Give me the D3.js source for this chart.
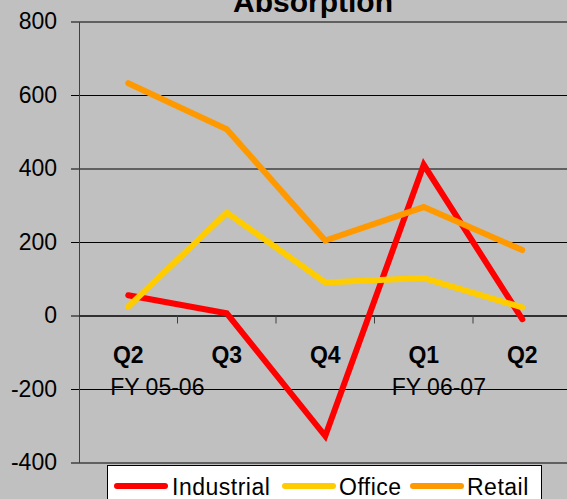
<!DOCTYPE html>
<html>
<head>
<meta charset="utf-8">
<script src="https://cdn.jsdelivr.net/npm/d3@7"></script>
<style>
  body { margin: 0; background: #c0c0c0; overflow: hidden; }
  svg { display: block; font-family: "Liberation Sans", Arial, sans-serif; }
</style>
</head>
<body>
<svg id="chart"></svg>
<script>
// quarters along the bottom
const quarters = ['Q2', 'Q3', 'Q4', 'Q1', 'Q2'];
const fiscalYears = [
  { at: 0, label: 'FY 05-06', dx: -18 },
  { at: 3, label: 'FY 06-07', dx: -32 }
];
const seriesNames = ['Industrial', 'Office', 'Retail'];
const industrial = [55, 6, -328, 410, -10];
const office = [24, 280, 90, 102, 22];
const retail = [632, 507, 204, 295, 178];
const yTicks = [-400, -200, 0, 200, 400, 600, 800];

const width = 567;
const height = 499;
const colors = ['#ff0000', '#ffcc00', '#ff9900'];
const series = [industrial, office, retail];

const plotLeft = 79, plotRight = 571.5, plotTop = 21.5, plotBottom = 462.5;

const svg = d3.select('#chart')
  .attr('width', width)
  .attr('height', height);

svg.append('rect')
  .attr('width', width)
  .attr('height', height)
  .attr('fill', '#c0c0c0');

const x = d3.scaleBand()
  .domain(d3.range(quarters.length))
  .range([plotLeft, plotRight]);

const y = d3.scaleLinear()
  .domain([-400, 800])
  .range([plotBottom, plotTop]);

// gridlines (they start a little left of the axis, like the tick marks)
const grid = svg.append('g')
  .attr('transform', `translate(${plotLeft - 8},0)`)
  .call(d3.axisRight(y).tickValues(yTicks).tickSize(plotRight - plotLeft + 8).tickFormat(''));
grid.select('.domain').remove();
grid.selectAll('line').attr('stroke', '#000').attr('stroke-width', 1);

// y labels, plain hyphen for negatives like the original
const yAxis = svg.append('g')
  .attr('transform', `translate(${plotLeft},0)`)
  .call(d3.axisLeft(y).tickValues(yTicks).tickSize(0).tickPadding(22).tickFormat(d => String(d)));
yAxis.select('.domain').attr('stroke', '#404040');
yAxis.selectAll('text')
  .attr('font-size', 23)
  .attr('fill', '#000')
  .attr('font-family', '"Liberation Sans", Arial, sans-serif');

// x axis at zero, ticks between categories
const xAxis = svg.append('g')
  .attr('transform', `translate(0,${y(0)})`)
  .call(d3.axisBottom(x).tickSize(0).tickFormat(''));
xAxis.select('.domain').attr('stroke', '#000');
xAxis.selectAll('.tick').remove();

svg.append('g')
  .selectAll('line')
  .data(d3.range(1, quarters.length))
  .join('line')
  .attr('x1', d => x(d))
  .attr('x2', d => x(d))
  .attr('y1', y(0))
  .attr('y2', y(0) + 8)
  .attr('stroke', '#404040');

// category labels
svg.append('g')
  .selectAll('text')
  .data(quarters)
  .join('text')
  .attr('x', (d, i) => x(i) + x.bandwidth() / 2)
  .attr('y', 363)
  .attr('text-anchor', 'middle')
  .attr('font-size', 23)
  .attr('font-weight', 'bold')
  .text(d => d);

svg.append('g')
  .selectAll('text')
  .data(fiscalYears)
  .join('text')
  .attr('x', d => x(d.at) + x.bandwidth() / 2 + d.dx)
  .attr('y', 395)
  .attr('font-size', 23)
  .text(d => d.label);

// lines
const line = d3.line()
  .x((d, i) => x(i) + x.bandwidth() / 2)
  .y(d => y(d));

svg.append('g')
  .selectAll('path')
  .data(series)
  .join('path')
  .attr('d', d => line(d))
  .attr('fill', 'none')
  .attr('stroke', (d, i) => colors[i])
  .attr('stroke-width', 6)
  .attr('stroke-linecap', 'round');

// title, mostly cut off at the top (as in the original)
svg.append('text')
  .attr('x', 313)
  .attr('y', 12)
  .attr('text-anchor', 'middle')
  .attr('font-size', 30)
  .attr('font-weight', 'bold')
  .text('Absorption');

// legend
const legend = svg.append('g');
legend.append('rect')
  .attr('x', 107.5)
  .attr('y', 465.5)
  .attr('width', 434)
  .attr('height', 40)
  .attr('fill', '#fff')
  .attr('stroke', '#000');

const legendX = [115, 283, 411];
const items = legend.selectAll('g.item')
  .data(seriesNames)
  .join('g')
  .attr('class', 'item')
  .attr('transform', (d, i) => `translate(${legendX[i]},0)`);

items.append('line')
  .attr('x1', 2).attr('x2', 50)
  .attr('y1', 486).attr('y2', 486)
  .attr('stroke', (d, i) => colors[i])
  .attr('stroke-width', 6)
  .attr('stroke-linecap', 'round');

items.append('text')
  .attr('x', (d, i) => i === 0 ? 57 : 56)
  .attr('y', 495)
  .attr('font-size', 23)
  .attr('letter-spacing', 0.5)
  .text(d => d);
</script>
</body>
</html>
